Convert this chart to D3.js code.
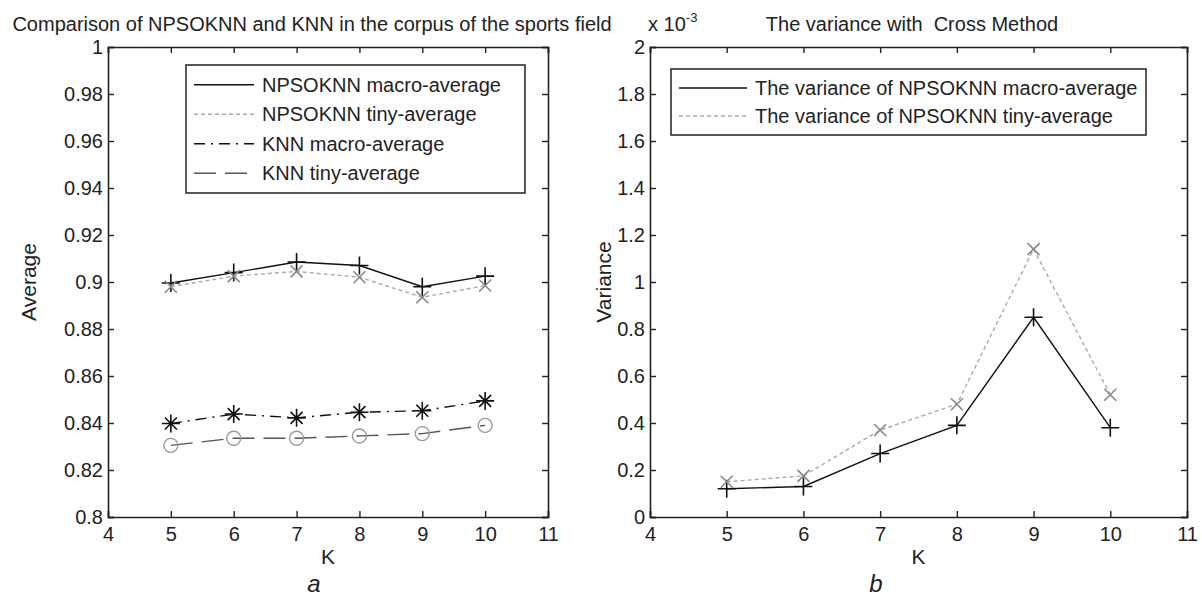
<!DOCTYPE html>
<html>
<head>
<meta charset="utf-8">
<script src="https://cdn.jsdelivr.net/npm/d3@7"></script>
<style>
  body { margin: 0; background: #fff; }
  text { font-family: 'Liberation Sans', Arial, sans-serif; fill: #222; white-space: pre; }
</style>
</head>
<body>
<script>
// data
const kValues = [5, 6, 7, 8, 9, 10]
const xTicks = [4, 5, 6, 7, 8, 9, 10, 11]

const npsoMacro = [0.8996, 0.904, 0.9085, 0.907, 0.898, 0.9025]
const npsoTiny = [0.898, 0.9025, 0.9045, 0.902, 0.8935, 0.8985]
const knnMacro = [0.8398, 0.8438, 0.8422, 0.8446, 0.8452, 0.8494]
const knnTiny = [0.8305, 0.8335, 0.8335, 0.8345, 0.8355, 0.839]
const avgTicks = [0.8, 0.82, 0.84, 0.86, 0.88, 0.9, 0.92, 0.94, 0.96, 0.98, 1]

const varMacro = [0.12, 0.13, 0.27, 0.39, 0.85, 0.38]
const varTiny = [0.15, 0.175, 0.37, 0.48, 1.14, 0.52]
const varTicks = [0, 0.2, 0.4, 0.6, 0.8, 1, 1.2, 1.4, 1.6, 1.8, 2]

const leftSeries = [
    {name: 'NPSOKNN macro-average', values: npsoMacro, color: '#111', dash: null, marker: 'plus'},
    {name: 'NPSOKNN tiny-average', values: npsoTiny, color: '#aaa', dash: '4,3', marker: 'cross'},
    {name: 'KNN macro-average', values: knnMacro, color: '#111', dash: '11,6,2,6', marker: 'star'},
    {name: 'KNN tiny-average', values: knnTiny, color: '#555', dash: '22,9', marker: 'circle'}
]
const rightSeries = [
    {name: 'The variance of NPSOKNN macro-average', values: varMacro, color: '#111', dash: null, marker: 'plus'},
    {name: 'The variance of NPSOKNN tiny-average', values: varTiny, color: '#aaa', dash: '4,3', marker: 'cross'}
]

const svg = d3.select('body').append('svg')
    .attr('width', 1202)
    .attr('height', 597)

// panel a
drawPanel({
    x0: 108, x1: 548, y0: 47, y1: 517,
    yDomain: [0.8, 1], yTicks: avgTicks,
    series: leftSeries,
    title: 'Comparison of NPSOKNN and KNN in the corpus of the sports field',
    titleX: 312,
    yLabel: 'Average', yLabelX: 36,
    legend: {x: 186, y: 65, w: 339, h: 128, lineLen: 60},
    letter: 'a', letterX: 314
})

// panel b
drawPanel({
    x0: 650, x1: 1187, y0: 47, y1: 517,
    yDomain: [0, 2], yTicks: varTicks,
    series: rightSeries,
    title: 'The variance with  Cross Method',
    titleX: 912,
    yLabel: 'Variance', yLabelX: 611,
    legend: {x: 671, y: 69, w: 475, h: 66, lineLen: 68},
    letter: 'b', letterX: 876
})

svg.append('text')
    .attr('x', 648).attr('y', 31)
    .attr('font-size', 20)
    .text('x 10')
    .append('tspan')
    .attr('dy', -9).attr('font-size', 13)
    .text('-3')

function drawPanel(p) {
    const x = d3.scaleLinear().domain([4, 11]).range([p.x0, p.x1])
    const y = d3.scaleLinear().domain(p.yDomain).range([p.y1, p.y0])
    const g = svg.append('g')
    const tickLen = 6

    // axes, ticks inside on all sides (matlab box)
    g.append('g')
        .attr('transform', `translate(0,${p.y1})`)
        .call(d3.axisBottom(x).tickValues(xTicks).tickSize(-tickLen).tickPadding(10).tickFormat(d3.format('d')))
    g.append('g')
        .attr('transform', `translate(0,${p.y0})`)
        .call(d3.axisTop(x).tickValues(xTicks).tickSize(-tickLen).tickFormat(''))
    g.append('g')
        .attr('transform', `translate(${p.x0},0)`)
        .call(d3.axisLeft(y).tickValues(p.yTicks).tickSize(-tickLen).tickPadding(5).tickFormat(d => String(+d.toFixed(2))))
    g.append('g')
        .attr('transform', `translate(${p.x1},0)`)
        .call(d3.axisRight(y).tickValues(p.yTicks).tickSize(-tickLen).tickFormat(''))

    g.selectAll('.domain').attr('stroke', '#222').attr('stroke-width', 1.6)
    g.selectAll('.tick line').attr('stroke', '#222').attr('stroke-width', 1.4)
    g.selectAll('.tick text')
        .attr('font-family', "'Liberation Sans', Arial, sans-serif")
        .attr('font-size', 20)
        .attr('fill', '#222')

    // lines and markers
    const line = d3.line()
        .x((d, i) => x(kValues[i]))
        .y(d => y(d))

    for (let s of p.series) {
        g.append('path')
            .datum(s.values)
            .attr('fill', 'none')
            .attr('stroke', s.color)
            .attr('stroke-width', 1.4)
            .attr('stroke-dasharray', s.dash)
            .attr('d', line)
        s.values.forEach((v, i) => {
            drawMarker(g, s.marker, x(kValues[i]), y(v), s.color)
        })
    }

    // titles
    svg.append('text')
        .attr('x', p.titleX).attr('y', 31)
        .attr('text-anchor', 'middle')
        .attr('font-size', 20)
        .text(p.title)
    svg.append('text')
        .attr('x', (p.x0 + p.x1) / 2).attr('y', 564)
        .attr('text-anchor', 'middle')
        .attr('font-size', 21)
        .text('K')
    svg.append('text')
        .attr('transform', `translate(${p.yLabelX},${(p.y0 + p.y1) / 2}) rotate(-90)`)
        .attr('text-anchor', 'middle')
        .attr('font-size', 21)
        .text(p.yLabel)
    svg.append('text')
        .attr('x', p.letterX).attr('y', 592)
        .attr('text-anchor', 'middle')
        .attr('font-family', "'Liberation Serif', serif")
        .attr('font-style', 'italic')
        .attr('font-size', 24)
        .text(p.letter)

    // legend
    const L = p.legend
    g.append('rect')
        .attr('x', L.x).attr('y', L.y)
        .attr('width', L.w).attr('height', L.h)
        .attr('fill', '#fff')
        .attr('stroke', '#222')
        .attr('stroke-width', 1.5)
    const rowH = (L.h - 10) / p.series.length
    p.series.forEach((s, i) => {
        const ly = L.y + 5 + rowH * (i + 0.5)
        g.append('line')
            .attr('x1', L.x + 8).attr('x2', L.x + 8 + L.lineLen)
            .attr('y1', ly).attr('y2', ly)
            .attr('stroke', s.color)
            .attr('stroke-width', 1.4)
            .attr('stroke-dasharray', s.dash)
        g.append('text')
            .attr('x', L.x + 16 + L.lineLen).attr('y', ly)
            .attr('dy', '0.35em')
            .attr('font-size', 20)
            .text(s.name)
    })
}

function drawMarker(g, type, cx, cy, color) {
    const r = 9
    let d
    if (type == 'plus') {
        d = `M${cx - r},${cy}H${cx + r}M${cx},${cy - r}V${cy + r}`
    } else if (type == 'cross') {
        const q = 6
        d = `M${cx - q},${cy - q}L${cx + q},${cy + q}M${cx - q},${cy + q}L${cx + q},${cy - q}`
    } else if (type == 'star') {
        const q = 6
        d = `M${cx - r},${cy}H${cx + r}M${cx},${cy - r}V${cy + r}` +
            `M${cx - q},${cy - q}L${cx + q},${cy + q}M${cx - q},${cy + q}L${cx + q},${cy - q}`
    }
    if (type == 'circle') {
        g.append('circle')
            .attr('cx', cx).attr('cy', cy).attr('r', 7)
            .attr('fill', 'none')
            .attr('stroke', '#999')
            .attr('stroke-width', 1.4)
    } else {
        g.append('path')
            .attr('d', d)
            .attr('fill', 'none')
            .attr('stroke', type == 'cross' ? '#888' : color)
            .attr('stroke-width', 1.6)
    }
}
</script>
</body>
</html>
